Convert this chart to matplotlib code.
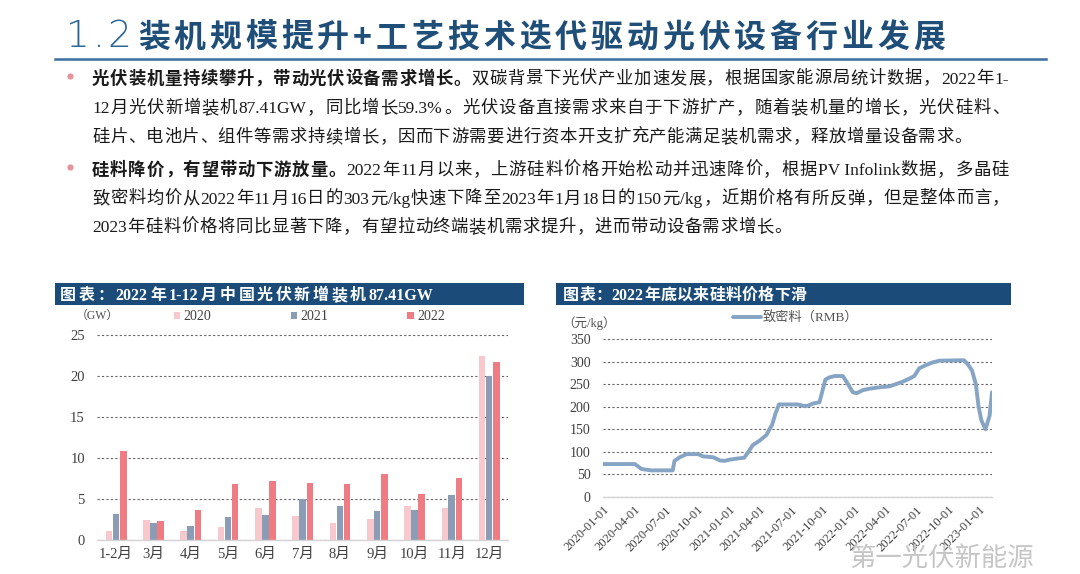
import matplotlib
matplotlib.use('Agg')
import matplotlib.pyplot as plt
import matplotlib.dates as mdates
from matplotlib.patches import Rectangle
import numpy as np
import pandas as pd

# ---------------- data ----------------
months = ['1-2月', '3月', '4月', '5月', '6月', '7月', '8月', '9月', '10月', '11月', '12月']
series_names = ['2020', '2021', '2022']
cap_2020 = [1.1, 2.4, 1.1, 1.6, 3.9, 2.9, 2.1, 2.6, 4.2, 3.9, 22.4]
cap_2021 = [3.2, 2.1, 1.7, 2.8, 3.1, 5.0, 4.1, 3.5, 3.7, 5.5, 20.0]
cap_2022 = [10.9, 2.3, 3.7, 6.8, 7.2, 6.9, 6.8, 8.1, 5.6, 7.5, 21.7]
cap_yticks = [0, 5, 10, 15, 20, 25]

price_dates = ['2020-01-01', '2020-04-03', '2020-04-22', '2020-05-20', '2020-07-22', '2020-07-27',
               '2020-08-11', '2020-08-31', '2020-10-04', '2020-10-18', '2020-11-17', '2020-12-06',
               '2020-12-20', '2021-01-05', '2021-01-24', '2021-02-15', '2021-02-27', '2021-03-12',
               '2021-04-01', '2021-04-20', '2021-05-07', '2021-05-17', '2021-05-27', '2021-07-21',
               '2021-08-05', '2021-08-19', '2021-09-03', '2021-09-22', '2021-10-09', '2021-10-21',
               '2021-11-05', '2021-11-29', '2021-12-14', '2021-12-28', '2022-01-08', '2022-01-27',
               '2022-02-15', '2022-03-15', '2022-04-13', '2022-05-02', '2022-05-21', '2022-06-10',
               '2022-06-25', '2022-07-09', '2022-07-28', '2022-08-17', '2022-09-06', '2022-11-16',
               '2022-11-27', '2022-12-10', '2022-12-21', '2022-12-29', '2023-01-06', '2023-01-18',
               '2023-01-22', '2023-01-30', '2023-02-06']
price_values = [73, 73, 62, 59, 59, 80,
                88, 95, 95, 90, 88, 81,
                80, 83, 85, 87, 100, 115,
                125, 137, 160, 185, 205, 205,
                202, 202, 207, 210, 260, 265,
                268, 268, 250, 232, 230, 237,
                240, 243, 245, 250, 255, 262,
                268, 285, 292, 298, 302, 303,
                295, 280, 250, 200, 170, 150,
                160, 180, 232]
price_yticks = [0, 50, 100, 150, 200, 250, 300, 350]
price_label = '致密料（RMB）'

title_num = '1.2'
title_text = '装机规模提升+工艺技术迭代驱动光伏设备行业发展'
chart1_title = '图表：2022年1-12月中国光伏新增装机87.41GW'
chart2_title = '图表：2022年底以来硅料价格下滑'
body_lines = [
    [('光伏装机量持续攀升，带动光伏设备需求增长。', True), ('双碳背景下光伏产业加速发展，根据国家能源局统计数据，2022年1-', False)],
    [('12月光伏新增装机87.41GW，同比增长59.3%。光伏设备直接需求来自于下游扩产，随着装机量的增长，光伏硅料、', False)],
    [('硅片、电池片、组件等需求持续增长，因而下游需要进行资本开支扩充产能满足装机需求，释放增量设备需求。', False)],
    [('硅料降价，有望带动下游放量。', True), ('2022年11月以来，上游硅料价格开始松动并迅速降价，根据PV Infolink数据，多晶硅', False)],
    [('致密料均价从2022年11月16日的303元/kg快速下降至2023年1月18日的150元/kg，近期价格有所反弹，但是整体而言，', False)],
    [('2023年硅料价格将同比显著下降，有望拉动终端装机需求提升，进而带动设备需求增长。', False)],
]
body_justify = [True, True, False, True, True, False]

# ---------------- setup ----------------
FAM = ['Liberation Serif', 'Noto Sans CJK SC']
CJK = ['Noto Sans CJK SC', 'DejaVu Sans']
plt.rcParams['font.family'] = FAM
plt.rcParams['axes.unicode_minus'] = False

W, H = 1080, 574
fig = plt.figure(figsize=(W / 100, H / 100), dpi=100)
fig.patch.set_facecolor('white')
renderer = fig.canvas.get_renderer()


def fx(x):
    return x / W


def fy(y):
    return 1 - y / H


def split_units(s, split_all=False):
    units, buf = [], ''
    for ch in s:
        if ord(ch) < 128 and not split_all:
            buf += ch
        else:
            if buf:
                units.append(buf)
                buf = ''
            units.append(ch)
    if buf:
        units.append(buf)
    return units


def advance(s, size, weight, family):
    if ord(s[0]) >= 128:
        return size * 100 / 72
    t1 = fig.text(0, 0, '|' + s + '|', fontsize=size, family=family, weight=weight)
    t2 = fig.text(0, 0, '||', fontsize=size, family=family, weight=weight)
    w = t1.get_window_extent(renderer).width - t2.get_window_extent(renderer).width
    t1.remove()
    t2.remove()
    return w


def draw_line(x0, yb, segs, size, color, gap=0.0, right=None, family=FAM, split_all=False,
              normal_weight='normal'):
    items = []
    for txt, bold in segs:
        for u in split_units(txt, split_all):
            items.append((u, 'bold' if bold else normal_weight))
    advs = [advance(u, size, w, family) for u, w in items]
    if right is not None and len(items) > 1:
        gap = (right - x0 - sum(advs)) / (len(items) - 1)
    x = x0
    for (u, w), a in zip(items, advs):
        fig.text(fx(x), fy(yb), u, fontsize=size, family=family, weight=w, color=color,
                 ha='left', va='baseline')
        x += a + gap


# ---------------- page title ----------------
draw_line(66, 47, [(title_num, False)], 27, '#2b6797', gap=3, family=['DejaVu Sans'],
          split_all=True, normal_weight='ultralight')
draw_line(138, 47, [(title_text, True)], 23, '#1f4e79', right=945,
          family=['Noto Sans CJK SC', 'Liberation Serif'])
fig.add_artist(plt.Line2D([fx(55), fx(1046)], [fy(59), fy(59)], color='#3a6f9f', lw=1.8))

# ---------------- body text ----------------
body_base = [83.5, 113, 142, 175, 203.5, 232]
for segs, just, yb in zip(body_lines, body_justify, body_base):
    if just:
        draw_line(92, yb, segs, 12.5, '#1a1a1a', right=1009)
    else:
        draw_line(92, yb, segs, 12.5, '#1a1a1a', gap=0.6)
for yb in (76, 166.5):
    fig.add_artist(plt.Line2D([fx(70)], [fy(yb)], marker='o', markersize=4.5,
                              color='#e8929b', markeredgewidth=0))

# ---------------- header bars ----------------
BAR_BLUE = '#1b4b78'
fig.add_artist(Rectangle((fx(55), fy(305)), (524 - 55) / W, 22 / H, transform=fig.transFigure,
                         facecolor=BAR_BLUE, edgecolor='none'))
fig.add_artist(Rectangle((fx(556), fy(305)), (1011 - 556) / W, 22 / H, transform=fig.transFigure,
                         facecolor=BAR_BLUE, edgecolor='none'))
draw_line(60, 300, [(chart1_title, True)], 11.5, 'white', right=433)
draw_line(563, 300, [(chart2_title, True)], 11.5, 'white', gap=0.3)

# ---------------- chart 1: bars ----------------
C2020, C2021, C2022 = '#f8c8cc', '#8a9db5', '#ef7c82'
ax1 = fig.add_axes([97.4 / W, (H - 540) / H, 410.3 / W, 213.3 / H])
x = np.arange(len(months))
bw = 0.175
ax1.bar(x - 0.185, cap_2020, bw, color=C2020, label=series_names[0], zorder=3)
ax1.bar(x, cap_2021, bw, color=C2021, label=series_names[1], zorder=3)
ax1.bar(x + 0.195, cap_2022, bw, color=C2022, label=series_names[2], zorder=3)
ax1.set_xlim(-0.5, len(months) - 0.5)
ax1.set_ylim(0, 26)
ax1.set_yticks(cap_yticks)
ax1.set_xticks(x)
ax1.set_xticklabels(months)
ax1.yaxis.grid(True, linestyle=(0, (2, 2)), color='#666666', lw=0.8)
ax1.set_axisbelow(True)
for s in ('top', 'right', 'left'):
    ax1.spines[s].set_visible(False)
ax1.spines['bottom'].set_color('#d4d4d4')
ax1.spines['bottom'].set_linewidth(1.0)
ax1.spines['bottom'].set_zorder(4)
ax1.tick_params(axis='both', length=0, labelsize=10.5, colors='#404040')
ax1.tick_params(axis='y', pad=9)
ax1.tick_params(axis='x', pad=6)
ax1.legend(loc='center left', bbox_to_anchor=(fx(174), fy(317)), bbox_transform=fig.transFigure,
           ncol=3, frameon=False, fontsize=10, handlelength=0.45, handleheight=0.45,
           handletextpad=0.25, columnspacing=5.7, borderpad=0, borderaxespad=0,
           labelcolor='#404040')
fig.text(fx(76), fy(316), '（GW）', fontsize=8.5, color='#505050', va='center', ha='left')

# ---------------- chart 2: line ----------------
dates = pd.to_datetime(price_dates)
ax2 = fig.add_axes([603 / W, (H - 497) / H, 389 / W, 162.5 / H])
ax2.plot(dates, price_values, color='#86a4c4', lw=2.8, solid_joinstyle='round',
         solid_capstyle='round', label=price_label, zorder=3)
ax2.set_ylim(0, 360)
ax2.set_yticks(price_yticks)
ax2.set_xlim(dates[0], dates[-1])
ax2.xaxis.set_major_locator(mdates.MonthLocator(bymonth=[1, 4, 7, 10]))
ax2.xaxis.set_major_formatter(mdates.DateFormatter('%Y-%m-%d'))
ax2.yaxis.grid(True, linestyle=(0, (2, 2)), color='#666666', lw=0.8)
ax2.set_axisbelow(True)
for s in ('top', 'right', 'left'):
    ax2.spines[s].set_visible(False)
ax2.spines['bottom'].set_color('#d4d4d4')
ax2.spines['bottom'].set_linewidth(1.0)
ax2.spines['bottom'].set_zorder(4)
ax2.tick_params(axis='both', length=0, colors='#404040')
ax2.tick_params(axis='y', labelsize=10, pad=9)
ax2.tick_params(axis='x', labelsize=9, pad=5)
for lbl in ax2.get_xticklabels():
    lbl.set_rotation(45)
    lbl.set_ha('right')
    lbl.set_va('top')
    lbl.set_rotation_mode('anchor')
ax2.legend(loc='center left', bbox_to_anchor=(fx(733), fy(318)), bbox_transform=fig.transFigure,
           frameon=False, fontsize=9.5, handlelength=2.1, handletextpad=0.15,
           borderpad=0, borderaxespad=0, labelcolor='#555555')
fig.text(fx(562), fy(323), '（元/kg）', fontsize=9, color='#505050', va='center', ha='left')

# ---------------- watermark ----------------
fig.text(fx(850), fy(566), '第一光伏新能源', fontsize=19, color='#c6c6c6', family=CJK,
         ha='left', va='baseline')

fig.savefig('out.png', dpi=100, facecolor='white')
